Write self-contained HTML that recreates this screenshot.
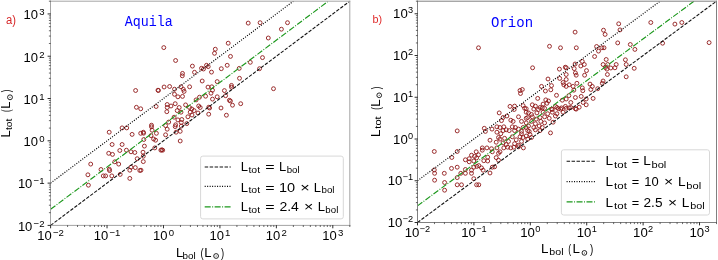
<!DOCTYPE html>
<html><head><meta charset="utf-8"><style>
html,body{margin:0;padding:0;background:#fff;width:718px;height:260px;overflow:hidden}
svg{display:block;filter:blur(0.35px)}
</style></head><body>
<svg width="718" height="260" viewBox="0 0 718 260" font-family='"Liberation Sans", sans-serif' fill="#000"><clipPath id="cAquila"><rect x="50.5" y="1.2" width="299.3" height="224.20000000000002"/></clipPath>
<g clip-path="url(#cAquila)">
<circle fill="none" stroke="#901818" stroke-width="0.9" cx="248.2" cy="23.1" r="1.95"/>
<circle fill="none" stroke="#901818" stroke-width="0.9" cx="260.1" cy="22.7" r="1.95"/>
<circle fill="none" stroke="#901818" stroke-width="0.9" cx="287.5" cy="22.7" r="1.95"/>
<circle fill="none" stroke="#901818" stroke-width="0.9" cx="281.4" cy="29.2" r="1.95"/>
<circle fill="none" stroke="#901818" stroke-width="0.9" cx="268.3" cy="38.0" r="1.95"/>
<circle fill="none" stroke="#901818" stroke-width="0.9" cx="228.2" cy="43.2" r="1.95"/>
<circle fill="none" stroke="#901818" stroke-width="0.9" cx="215.3" cy="49.2" r="1.95"/>
<circle fill="none" stroke="#901818" stroke-width="0.9" cx="214.5" cy="53.3" r="1.95"/>
<circle fill="none" stroke="#901818" stroke-width="0.9" cx="163.8" cy="47.6" r="1.95"/>
<circle fill="none" stroke="#901818" stroke-width="0.9" cx="230.5" cy="56.4" r="1.95"/>
<circle fill="none" stroke="#901818" stroke-width="0.9" cx="175.6" cy="60.5" r="1.95"/>
<circle fill="none" stroke="#901818" stroke-width="0.9" cx="262.5" cy="57.6" r="1.95"/>
<circle fill="none" stroke="#901818" stroke-width="0.9" cx="250.3" cy="62.3" r="1.95"/>
<circle fill="none" stroke="#901818" stroke-width="0.9" cx="192.4" cy="66.1" r="1.95"/>
<circle fill="none" stroke="#901818" stroke-width="0.9" cx="206.5" cy="65.3" r="1.95"/>
<circle fill="none" stroke="#901818" stroke-width="0.9" cx="208.2" cy="66.6" r="1.95"/>
<circle fill="none" stroke="#901818" stroke-width="0.9" cx="201.5" cy="68.3" r="1.95"/>
<circle fill="none" stroke="#901818" stroke-width="0.9" cx="203.5" cy="69.0" r="1.95"/>
<circle fill="none" stroke="#901818" stroke-width="0.9" cx="227.2" cy="65.3" r="1.95"/>
<circle fill="none" stroke="#901818" stroke-width="0.9" cx="221.3" cy="68.7" r="1.95"/>
<circle fill="none" stroke="#901818" stroke-width="0.9" cx="239.2" cy="68.4" r="1.95"/>
<circle fill="none" stroke="#901818" stroke-width="0.9" cx="259.5" cy="68.7" r="1.95"/>
<circle fill="none" stroke="#901818" stroke-width="0.9" cx="194.5" cy="72.3" r="1.95"/>
<circle fill="none" stroke="#901818" stroke-width="0.9" cx="211.5" cy="72.1" r="1.95"/>
<circle fill="none" stroke="#901818" stroke-width="0.9" cx="182.5" cy="73.4" r="1.95"/>
<circle fill="none" stroke="#901818" stroke-width="0.9" cx="182.3" cy="75.8" r="1.95"/>
<circle fill="none" stroke="#901818" stroke-width="0.9" cx="239.5" cy="78.3" r="1.95"/>
<circle fill="none" stroke="#901818" stroke-width="0.9" cx="202.2" cy="81.0" r="1.95"/>
<circle fill="none" stroke="#901818" stroke-width="0.9" cx="217.2" cy="81.6" r="1.95"/>
<circle fill="none" stroke="#901818" stroke-width="0.9" cx="164.1" cy="87.0" r="1.95"/>
<circle fill="none" stroke="#901818" stroke-width="0.9" cx="169.6" cy="86.5" r="1.95"/>
<circle fill="none" stroke="#901818" stroke-width="0.9" cx="181.0" cy="86.8" r="1.95"/>
<circle fill="none" stroke="#901818" stroke-width="0.9" cx="189.6" cy="86.8" r="1.95"/>
<circle fill="none" stroke="#901818" stroke-width="0.9" cx="174.5" cy="89.2" r="1.95"/>
<circle fill="none" stroke="#901818" stroke-width="0.9" cx="183.3" cy="89.3" r="1.95"/>
<circle fill="none" stroke="#901818" stroke-width="0.9" cx="184.1" cy="91.4" r="1.95"/>
<circle fill="none" stroke="#901818" stroke-width="0.9" cx="208.0" cy="87.1" r="1.95"/>
<circle fill="none" stroke="#901818" stroke-width="0.9" cx="211.8" cy="86.8" r="1.95"/>
<circle fill="none" stroke="#901818" stroke-width="0.9" cx="231.5" cy="85.4" r="1.95"/>
<circle fill="none" stroke="#901818" stroke-width="0.9" cx="231.5" cy="87.2" r="1.95"/>
<circle fill="none" stroke="#901818" stroke-width="0.9" cx="212.5" cy="90.2" r="1.95"/>
<circle fill="none" stroke="#901818" stroke-width="0.9" cx="224.4" cy="90.6" r="1.95"/>
<circle fill="none" stroke="#901818" stroke-width="0.9" cx="211.0" cy="93.2" r="1.95"/>
<circle fill="none" stroke="#901818" stroke-width="0.9" cx="174.5" cy="94.3" r="1.95"/>
<circle fill="none" stroke="#901818" stroke-width="0.9" cx="177.9" cy="96.8" r="1.95"/>
<circle fill="none" stroke="#901818" stroke-width="0.9" cx="182.5" cy="96.4" r="1.95"/>
<circle fill="none" stroke="#901818" stroke-width="0.9" cx="225.6" cy="95.7" r="1.95"/>
<circle fill="none" stroke="#901818" stroke-width="0.9" cx="205.6" cy="96.2" r="1.95"/>
<circle fill="none" stroke="#901818" stroke-width="0.9" cx="199.5" cy="97.2" r="1.95"/>
<circle fill="none" stroke="#901818" stroke-width="0.9" cx="196.1" cy="99.9" r="1.95"/>
<circle fill="none" stroke="#901818" stroke-width="0.9" cx="212.5" cy="99.1" r="1.95"/>
<circle fill="none" stroke="#901818" stroke-width="0.9" cx="217.2" cy="96.8" r="1.95"/>
<circle fill="none" stroke="#901818" stroke-width="0.9" cx="229.4" cy="100.3" r="1.95"/>
<circle fill="none" stroke="#901818" stroke-width="0.9" cx="230.4" cy="101.0" r="1.95"/>
<circle fill="none" stroke="#901818" stroke-width="0.9" cx="232.5" cy="105.2" r="1.95"/>
<circle fill="none" stroke="#901818" stroke-width="0.9" cx="240.7" cy="103.7" r="1.95"/>
<circle fill="none" stroke="#901818" stroke-width="0.9" cx="167.2" cy="104.5" r="1.95"/>
<circle fill="none" stroke="#901818" stroke-width="0.9" cx="175.2" cy="103.7" r="1.95"/>
<circle fill="none" stroke="#901818" stroke-width="0.9" cx="171.0" cy="106.0" r="1.95"/>
<circle fill="none" stroke="#901818" stroke-width="0.9" cx="167.2" cy="107.5" r="1.95"/>
<circle fill="none" stroke="#901818" stroke-width="0.9" cx="179.2" cy="107.5" r="1.95"/>
<circle fill="none" stroke="#901818" stroke-width="0.9" cx="185.6" cy="104.9" r="1.95"/>
<circle fill="none" stroke="#901818" stroke-width="0.9" cx="189.5" cy="107.5" r="1.95"/>
<circle fill="none" stroke="#901818" stroke-width="0.9" cx="191.8" cy="109.0" r="1.95"/>
<circle fill="none" stroke="#901818" stroke-width="0.9" cx="198.7" cy="106.0" r="1.95"/>
<circle fill="none" stroke="#901818" stroke-width="0.9" cx="200.2" cy="107.5" r="1.95"/>
<circle fill="none" stroke="#901818" stroke-width="0.9" cx="208.8" cy="107.2" r="1.95"/>
<circle fill="none" stroke="#901818" stroke-width="0.9" cx="209.6" cy="108.0" r="1.95"/>
<circle fill="none" stroke="#901818" stroke-width="0.9" cx="221.0" cy="108.0" r="1.95"/>
<circle fill="none" stroke="#901818" stroke-width="0.9" cx="166.8" cy="111.7" r="1.95"/>
<circle fill="none" stroke="#901818" stroke-width="0.9" cx="177.2" cy="110.6" r="1.95"/>
<circle fill="none" stroke="#901818" stroke-width="0.9" cx="181.0" cy="112.2" r="1.95"/>
<circle fill="none" stroke="#901818" stroke-width="0.9" cx="190.2" cy="112.2" r="1.95"/>
<circle fill="none" stroke="#901818" stroke-width="0.9" cx="194.1" cy="110.6" r="1.95"/>
<circle fill="none" stroke="#901818" stroke-width="0.9" cx="198.0" cy="113.0" r="1.95"/>
<circle fill="none" stroke="#901818" stroke-width="0.9" cx="208.7" cy="114.2" r="1.95"/>
<circle fill="none" stroke="#901818" stroke-width="0.9" cx="226.4" cy="115.2" r="1.95"/>
<circle fill="none" stroke="#901818" stroke-width="0.9" cx="135.6" cy="90.5" r="1.95"/>
<circle fill="none" stroke="#901818" stroke-width="0.9" cx="158.0" cy="90.2" r="1.95"/>
<circle fill="none" stroke="#901818" stroke-width="0.9" cx="158.4" cy="90.5" r="1.95"/>
<circle fill="none" stroke="#901818" stroke-width="0.9" cx="136.4" cy="107.3" r="1.95"/>
<circle fill="none" stroke="#901818" stroke-width="0.9" cx="140.7" cy="108.8" r="1.95"/>
<circle fill="none" stroke="#901818" stroke-width="0.9" cx="156.1" cy="106.5" r="1.95"/>
<circle fill="none" stroke="#901818" stroke-width="0.9" cx="273.5" cy="88.7" r="1.95"/>
<circle fill="none" stroke="#901818" stroke-width="0.9" cx="187.9" cy="116.8" r="1.95"/>
<circle fill="none" stroke="#901818" stroke-width="0.9" cx="192.0" cy="115.0" r="1.95"/>
<circle fill="none" stroke="#901818" stroke-width="0.9" cx="174.1" cy="117.2" r="1.95"/>
<circle fill="none" stroke="#901818" stroke-width="0.9" cx="177.9" cy="119.9" r="1.95"/>
<circle fill="none" stroke="#901818" stroke-width="0.9" cx="181.8" cy="119.5" r="1.95"/>
<circle fill="none" stroke="#901818" stroke-width="0.9" cx="181.3" cy="122.5" r="1.95"/>
<circle fill="none" stroke="#901818" stroke-width="0.9" cx="168.7" cy="122.1" r="1.95"/>
<circle fill="none" stroke="#901818" stroke-width="0.9" cx="186.8" cy="123.6" r="1.95"/>
<circle fill="none" stroke="#901818" stroke-width="0.9" cx="175.6" cy="124.8" r="1.95"/>
<circle fill="none" stroke="#901818" stroke-width="0.9" cx="175.2" cy="126.6" r="1.95"/>
<circle fill="none" stroke="#901818" stroke-width="0.9" cx="165.6" cy="125.6" r="1.95"/>
<circle fill="none" stroke="#901818" stroke-width="0.9" cx="167.2" cy="129.2" r="1.95"/>
<circle fill="none" stroke="#901818" stroke-width="0.9" cx="181.3" cy="126.1" r="1.95"/>
<circle fill="none" stroke="#901818" stroke-width="0.9" cx="151.5" cy="125.2" r="1.95"/>
<circle fill="none" stroke="#901818" stroke-width="0.9" cx="151.5" cy="126.8" r="1.95"/>
<circle fill="none" stroke="#901818" stroke-width="0.9" cx="152.1" cy="130.2" r="1.95"/>
<circle fill="none" stroke="#901818" stroke-width="0.9" cx="143.3" cy="132.2" r="1.95"/>
<circle fill="none" stroke="#901818" stroke-width="0.9" cx="143.6" cy="133.2" r="1.95"/>
<circle fill="none" stroke="#901818" stroke-width="0.9" cx="156.4" cy="133.3" r="1.95"/>
<circle fill="none" stroke="#901818" stroke-width="0.9" cx="165.6" cy="134.8" r="1.95"/>
<circle fill="none" stroke="#901818" stroke-width="0.9" cx="176.1" cy="132.2" r="1.95"/>
<circle fill="none" stroke="#901818" stroke-width="0.9" cx="180.2" cy="131.3" r="1.95"/>
<circle fill="none" stroke="#901818" stroke-width="0.9" cx="151.0" cy="135.6" r="1.95"/>
<circle fill="none" stroke="#901818" stroke-width="0.9" cx="153.6" cy="139.0" r="1.95"/>
<circle fill="none" stroke="#901818" stroke-width="0.9" cx="155.6" cy="140.2" r="1.95"/>
<circle fill="none" stroke="#901818" stroke-width="0.9" cx="143.8" cy="139.5" r="1.95"/>
<circle fill="none" stroke="#901818" stroke-width="0.9" cx="180.2" cy="141.0" r="1.95"/>
<circle fill="none" stroke="#901818" stroke-width="0.9" cx="144.4" cy="146.1" r="1.95"/>
<circle fill="none" stroke="#901818" stroke-width="0.9" cx="154.8" cy="147.9" r="1.95"/>
<circle fill="none" stroke="#901818" stroke-width="0.9" cx="161.8" cy="149.8" r="1.95"/>
<circle fill="none" stroke="#901818" stroke-width="0.9" cx="109.2" cy="132.2" r="1.95"/>
<circle fill="none" stroke="#901818" stroke-width="0.9" cx="122.1" cy="127.9" r="1.95"/>
<circle fill="none" stroke="#901818" stroke-width="0.9" cx="126.7" cy="127.9" r="1.95"/>
<circle fill="none" stroke="#901818" stroke-width="0.9" cx="132.1" cy="134.4" r="1.95"/>
<circle fill="none" stroke="#901818" stroke-width="0.9" cx="140.7" cy="133.3" r="1.95"/>
<circle fill="none" stroke="#901818" stroke-width="0.9" cx="112.1" cy="144.5" r="1.95"/>
<circle fill="none" stroke="#901818" stroke-width="0.9" cx="122.1" cy="144.5" r="1.95"/>
<circle fill="none" stroke="#901818" stroke-width="0.9" cx="119.8" cy="150.5" r="1.95"/>
<circle fill="none" stroke="#901818" stroke-width="0.9" cx="126.4" cy="150.2" r="1.95"/>
<circle fill="none" stroke="#901818" stroke-width="0.9" cx="108.7" cy="153.3" r="1.95"/>
<circle fill="none" stroke="#901818" stroke-width="0.9" cx="112.5" cy="154.4" r="1.95"/>
<circle fill="none" stroke="#901818" stroke-width="0.9" cx="131.0" cy="151.8" r="1.95"/>
<circle fill="none" stroke="#901818" stroke-width="0.9" cx="134.8" cy="152.5" r="1.95"/>
<circle fill="none" stroke="#901818" stroke-width="0.9" cx="143.0" cy="152.2" r="1.95"/>
<circle fill="none" stroke="#901818" stroke-width="0.9" cx="137.2" cy="158.7" r="1.95"/>
<circle fill="none" stroke="#901818" stroke-width="0.9" cx="143.3" cy="156.2" r="1.95"/>
<circle fill="none" stroke="#901818" stroke-width="0.9" cx="143.3" cy="161.6" r="1.95"/>
<circle fill="none" stroke="#901818" stroke-width="0.9" cx="90.7" cy="164.1" r="1.95"/>
<circle fill="none" stroke="#901818" stroke-width="0.9" cx="114.8" cy="161.8" r="1.95"/>
<circle fill="none" stroke="#901818" stroke-width="0.9" cx="118.7" cy="164.1" r="1.95"/>
<circle fill="none" stroke="#901818" stroke-width="0.9" cx="101.0" cy="169.5" r="1.95"/>
<circle fill="none" stroke="#901818" stroke-width="0.9" cx="109.3" cy="169.2" r="1.95"/>
<circle fill="none" stroke="#901818" stroke-width="0.9" cx="109.6" cy="170.6" r="1.95"/>
<circle fill="none" stroke="#901818" stroke-width="0.9" cx="87.9" cy="174.8" r="1.95"/>
<circle fill="none" stroke="#901818" stroke-width="0.9" cx="103.3" cy="175.9" r="1.95"/>
<circle fill="none" stroke="#901818" stroke-width="0.9" cx="105.6" cy="175.9" r="1.95"/>
<circle fill="none" stroke="#901818" stroke-width="0.9" cx="111.8" cy="175.9" r="1.95"/>
<circle fill="none" stroke="#901818" stroke-width="0.9" cx="120.2" cy="174.4" r="1.95"/>
<circle fill="none" stroke="#901818" stroke-width="0.9" cx="131.0" cy="167.2" r="1.95"/>
<circle fill="none" stroke="#901818" stroke-width="0.9" cx="129.8" cy="170.2" r="1.95"/>
<circle fill="none" stroke="#901818" stroke-width="0.9" cx="135.3" cy="167.6" r="1.95"/>
<circle fill="none" stroke="#901818" stroke-width="0.9" cx="139.8" cy="170.5" r="1.95"/>
<circle fill="none" stroke="#901818" stroke-width="0.9" cx="129.8" cy="178.4" r="1.95"/>
<circle fill="none" stroke="#901818" stroke-width="0.9" cx="88.4" cy="185.2" r="1.95"/>
<circle fill="none" stroke="#901818" stroke-width="0.9" cx="160.9" cy="150.2" r="1.95"/>
<circle fill="none" stroke="#901818" stroke-width="0.9" cx="162.7" cy="150.2" r="1.95"/>
<circle fill="none" stroke="#901818" stroke-width="0.9" cx="141.0" cy="170.2" r="1.95"/>
<line x1="50.60" y1="183.11" x2="361.09" y2="-49.55" stroke="#000" stroke-width="1.2" stroke-dasharray="1.0,1.48"/>
<line x1="50.60" y1="209.32" x2="361.09" y2="-23.34" stroke="#1c981c" stroke-width="1.15" stroke-dasharray="6,1.5,0.94,1.5"/>
<line x1="50.60" y1="225.40" x2="361.09" y2="-7.26" stroke="#111" stroke-width="1.08" stroke-dasharray="3.46,1.5"/>
</g>
<g stroke="#a4a4a4" stroke-width="1"><line x1="50.5" y1="0.7" x2="50.5" y2="225.9"/><line x1="349.8" y1="0.7" x2="349.8" y2="225.9"/><line x1="50.0" y1="1.2" x2="350.3" y2="1.2"/><line x1="50.0" y1="225.4" x2="350.3" y2="225.4"/></g>
<g stroke="#222" stroke-width="0.95"><line x1="50.60" y1="225.1" x2="50.60" y2="228.3"/><line x1="50.8" y1="225.40" x2="47.6" y2="225.40"/><line x1="107.04" y1="225.1" x2="107.04" y2="228.3"/><line x1="50.8" y1="183.11" x2="47.6" y2="183.11"/><line x1="163.48" y1="225.1" x2="163.48" y2="228.3"/><line x1="50.8" y1="140.81" x2="47.6" y2="140.81"/><line x1="219.93" y1="225.1" x2="219.93" y2="228.3"/><line x1="50.8" y1="98.52" x2="47.6" y2="98.52"/><line x1="276.37" y1="225.1" x2="276.37" y2="228.3"/><line x1="50.8" y1="56.22" x2="47.6" y2="56.22"/><line x1="332.81" y1="225.1" x2="332.81" y2="228.3"/><line x1="50.8" y1="13.93" x2="47.6" y2="13.93"/></g>
<g stroke="#444" stroke-width="0.8"><line x1="67.59" y1="225.1" x2="67.59" y2="227.0"/><line x1="50.8" y1="212.67" x2="48.9" y2="212.67"/><line x1="77.53" y1="225.1" x2="77.53" y2="227.0"/><line x1="50.8" y1="205.22" x2="48.9" y2="205.22"/><line x1="84.58" y1="225.1" x2="84.58" y2="227.0"/><line x1="50.8" y1="199.94" x2="48.9" y2="199.94"/><line x1="90.05" y1="225.1" x2="90.05" y2="227.0"/><line x1="50.8" y1="195.84" x2="48.9" y2="195.84"/><line x1="94.52" y1="225.1" x2="94.52" y2="227.0"/><line x1="50.8" y1="192.49" x2="48.9" y2="192.49"/><line x1="98.30" y1="225.1" x2="98.30" y2="227.0"/><line x1="50.8" y1="189.66" x2="48.9" y2="189.66"/><line x1="101.57" y1="225.1" x2="101.57" y2="227.0"/><line x1="50.8" y1="187.20" x2="48.9" y2="187.20"/><line x1="104.46" y1="225.1" x2="104.46" y2="227.0"/><line x1="50.8" y1="185.04" x2="48.9" y2="185.04"/><line x1="124.03" y1="225.1" x2="124.03" y2="227.0"/><line x1="50.8" y1="170.37" x2="48.9" y2="170.37"/><line x1="133.97" y1="225.1" x2="133.97" y2="227.0"/><line x1="50.8" y1="162.93" x2="48.9" y2="162.93"/><line x1="141.02" y1="225.1" x2="141.02" y2="227.0"/><line x1="50.8" y1="157.64" x2="48.9" y2="157.64"/><line x1="146.49" y1="225.1" x2="146.49" y2="227.0"/><line x1="50.8" y1="153.54" x2="48.9" y2="153.54"/><line x1="150.96" y1="225.1" x2="150.96" y2="227.0"/><line x1="50.8" y1="150.20" x2="48.9" y2="150.20"/><line x1="154.74" y1="225.1" x2="154.74" y2="227.0"/><line x1="50.8" y1="147.36" x2="48.9" y2="147.36"/><line x1="158.01" y1="225.1" x2="158.01" y2="227.0"/><line x1="50.8" y1="144.91" x2="48.9" y2="144.91"/><line x1="160.90" y1="225.1" x2="160.90" y2="227.0"/><line x1="50.8" y1="142.75" x2="48.9" y2="142.75"/><line x1="180.48" y1="225.1" x2="180.48" y2="227.0"/><line x1="50.8" y1="128.08" x2="48.9" y2="128.08"/><line x1="190.41" y1="225.1" x2="190.41" y2="227.0"/><line x1="50.8" y1="120.63" x2="48.9" y2="120.63"/><line x1="197.47" y1="225.1" x2="197.47" y2="227.0"/><line x1="50.8" y1="115.35" x2="48.9" y2="115.35"/><line x1="202.94" y1="225.1" x2="202.94" y2="227.0"/><line x1="50.8" y1="111.25" x2="48.9" y2="111.25"/><line x1="207.40" y1="225.1" x2="207.40" y2="227.0"/><line x1="50.8" y1="107.90" x2="48.9" y2="107.90"/><line x1="211.18" y1="225.1" x2="211.18" y2="227.0"/><line x1="50.8" y1="105.07" x2="48.9" y2="105.07"/><line x1="214.46" y1="225.1" x2="214.46" y2="227.0"/><line x1="50.8" y1="102.62" x2="48.9" y2="102.62"/><line x1="217.34" y1="225.1" x2="217.34" y2="227.0"/><line x1="50.8" y1="100.45" x2="48.9" y2="100.45"/><line x1="236.92" y1="225.1" x2="236.92" y2="227.0"/><line x1="50.8" y1="85.79" x2="48.9" y2="85.79"/><line x1="246.86" y1="225.1" x2="246.86" y2="227.0"/><line x1="50.8" y1="78.34" x2="48.9" y2="78.34"/><line x1="253.91" y1="225.1" x2="253.91" y2="227.0"/><line x1="50.8" y1="73.05" x2="48.9" y2="73.05"/><line x1="259.38" y1="225.1" x2="259.38" y2="227.0"/><line x1="50.8" y1="68.96" x2="48.9" y2="68.96"/><line x1="263.85" y1="225.1" x2="263.85" y2="227.0"/><line x1="50.8" y1="65.61" x2="48.9" y2="65.61"/><line x1="267.63" y1="225.1" x2="267.63" y2="227.0"/><line x1="50.8" y1="62.78" x2="48.9" y2="62.78"/><line x1="270.90" y1="225.1" x2="270.90" y2="227.0"/><line x1="50.8" y1="60.32" x2="48.9" y2="60.32"/><line x1="273.79" y1="225.1" x2="273.79" y2="227.0"/><line x1="50.8" y1="58.16" x2="48.9" y2="58.16"/><line x1="293.36" y1="225.1" x2="293.36" y2="227.0"/><line x1="50.8" y1="43.49" x2="48.9" y2="43.49"/><line x1="303.30" y1="225.1" x2="303.30" y2="227.0"/><line x1="50.8" y1="36.05" x2="48.9" y2="36.05"/><line x1="310.35" y1="225.1" x2="310.35" y2="227.0"/><line x1="50.8" y1="30.76" x2="48.9" y2="30.76"/><line x1="315.82" y1="225.1" x2="315.82" y2="227.0"/><line x1="50.8" y1="26.66" x2="48.9" y2="26.66"/><line x1="320.29" y1="225.1" x2="320.29" y2="227.0"/><line x1="50.8" y1="23.31" x2="48.9" y2="23.31"/><line x1="324.07" y1="225.1" x2="324.07" y2="227.0"/><line x1="50.8" y1="20.48" x2="48.9" y2="20.48"/><line x1="327.34" y1="225.1" x2="327.34" y2="227.0"/><line x1="50.8" y1="18.03" x2="48.9" y2="18.03"/><line x1="330.23" y1="225.1" x2="330.23" y2="227.0"/><line x1="50.8" y1="15.87" x2="48.9" y2="15.87"/><line x1="349.80" y1="225.1" x2="349.80" y2="227.0"/><line x1="50.8" y1="1.20" x2="48.9" y2="1.20"/></g>
<text x="50.60" y="239.50" text-anchor="middle" font-size="13">10<tspan font-size="9.6" dx="1.2" dy="-4.0">−2</tspan></text>
<text x="44.50" y="230.70" text-anchor="end" font-size="13">10<tspan font-size="9.6" dx="1.2" dy="-4.0">−2</tspan></text>
<text x="107.04" y="239.50" text-anchor="middle" font-size="13">10<tspan font-size="9.6" dx="1.2" dy="-4.0">−1</tspan></text>
<text x="44.50" y="188.41" text-anchor="end" font-size="13">10<tspan font-size="9.6" dx="1.2" dy="-4.0">−1</tspan></text>
<text x="163.48" y="239.50" text-anchor="middle" font-size="13">10<tspan font-size="9.6" dx="1.2" dy="-4.0">0</tspan></text>
<text x="44.50" y="146.11" text-anchor="end" font-size="13">10<tspan font-size="9.6" dx="1.2" dy="-4.0">0</tspan></text>
<text x="219.93" y="239.50" text-anchor="middle" font-size="13">10<tspan font-size="9.6" dx="1.2" dy="-4.0">1</tspan></text>
<text x="44.50" y="103.82" text-anchor="end" font-size="13">10<tspan font-size="9.6" dx="1.2" dy="-4.0">1</tspan></text>
<text x="276.37" y="239.50" text-anchor="middle" font-size="13">10<tspan font-size="9.6" dx="1.2" dy="-4.0">2</tspan></text>
<text x="44.50" y="61.52" text-anchor="end" font-size="13">10<tspan font-size="9.6" dx="1.2" dy="-4.0">2</tspan></text>
<text x="332.81" y="239.50" text-anchor="middle" font-size="13">10<tspan font-size="9.6" dx="1.2" dy="-4.0">3</tspan></text>
<text x="44.50" y="19.23" text-anchor="end" font-size="13">10<tspan font-size="9.6" dx="1.2" dy="-4.0">3</tspan></text>
<clipPath id="cOrion"><rect x="417.5" y="1.2" width="299.0" height="221.3"/></clipPath>
<g clip-path="url(#cOrion)">
<circle fill="none" stroke="#901818" stroke-width="0.9" cx="575.1" cy="32.1" r="1.95"/>
<circle fill="none" stroke="#901818" stroke-width="0.9" cx="603.5" cy="30.2" r="1.95"/>
<circle fill="none" stroke="#901818" stroke-width="0.9" cx="605.1" cy="34.4" r="1.95"/>
<circle fill="none" stroke="#901818" stroke-width="0.9" cx="618.7" cy="23.8" r="1.95"/>
<circle fill="none" stroke="#901818" stroke-width="0.9" cx="620.0" cy="29.9" r="1.95"/>
<circle fill="none" stroke="#901818" stroke-width="0.9" cx="650.8" cy="22.5" r="1.95"/>
<circle fill="none" stroke="#901818" stroke-width="0.9" cx="674.9" cy="24.1" r="1.95"/>
<circle fill="none" stroke="#901818" stroke-width="0.9" cx="681.8" cy="22.5" r="1.95"/>
<circle fill="none" stroke="#901818" stroke-width="0.9" cx="549.5" cy="46.3" r="1.95"/>
<circle fill="none" stroke="#901818" stroke-width="0.9" cx="560.5" cy="47.8" r="1.95"/>
<circle fill="none" stroke="#901818" stroke-width="0.9" cx="576.3" cy="47.8" r="1.95"/>
<circle fill="none" stroke="#901818" stroke-width="0.9" cx="596.6" cy="46.5" r="1.95"/>
<circle fill="none" stroke="#901818" stroke-width="0.9" cx="601.9" cy="47.8" r="1.95"/>
<circle fill="none" stroke="#901818" stroke-width="0.9" cx="604.0" cy="47.8" r="1.95"/>
<circle fill="none" stroke="#901818" stroke-width="0.9" cx="598.5" cy="51.1" r="1.95"/>
<circle fill="none" stroke="#901818" stroke-width="0.9" cx="617.7" cy="42.9" r="1.95"/>
<circle fill="none" stroke="#901818" stroke-width="0.9" cx="630.3" cy="44.5" r="1.95"/>
<circle fill="none" stroke="#901818" stroke-width="0.9" cx="594.6" cy="56.5" r="1.95"/>
<circle fill="none" stroke="#901818" stroke-width="0.9" cx="606.2" cy="59.5" r="1.95"/>
<circle fill="none" stroke="#901818" stroke-width="0.9" cx="625.4" cy="59.8" r="1.95"/>
<circle fill="none" stroke="#901818" stroke-width="0.9" cx="626.2" cy="64.5" r="1.95"/>
<circle fill="none" stroke="#901818" stroke-width="0.9" cx="582.3" cy="61.4" r="1.95"/>
<circle fill="none" stroke="#901818" stroke-width="0.9" cx="584.3" cy="64.5" r="1.95"/>
<circle fill="none" stroke="#901818" stroke-width="0.9" cx="580.8" cy="66.0" r="1.95"/>
<circle fill="none" stroke="#901818" stroke-width="0.9" cx="575.1" cy="64.0" r="1.95"/>
<circle fill="none" stroke="#901818" stroke-width="0.9" cx="574.2" cy="68.6" r="1.95"/>
<circle fill="none" stroke="#901818" stroke-width="0.9" cx="565.3" cy="67.2" r="1.95"/>
<circle fill="none" stroke="#901818" stroke-width="0.9" cx="566.3" cy="67.8" r="1.95"/>
<circle fill="none" stroke="#901818" stroke-width="0.9" cx="559.4" cy="69.1" r="1.95"/>
<circle fill="none" stroke="#901818" stroke-width="0.9" cx="532.6" cy="67.8" r="1.95"/>
<circle fill="none" stroke="#901818" stroke-width="0.9" cx="603.1" cy="64.5" r="1.95"/>
<circle fill="none" stroke="#901818" stroke-width="0.9" cx="607.7" cy="64.5" r="1.95"/>
<circle fill="none" stroke="#901818" stroke-width="0.9" cx="605.4" cy="67.5" r="1.95"/>
<circle fill="none" stroke="#901818" stroke-width="0.9" cx="610.8" cy="68.0" r="1.95"/>
<circle fill="none" stroke="#901818" stroke-width="0.9" cx="614.9" cy="67.8" r="1.95"/>
<circle fill="none" stroke="#901818" stroke-width="0.9" cx="616.2" cy="64.5" r="1.95"/>
<circle fill="none" stroke="#901818" stroke-width="0.9" cx="606.9" cy="69.1" r="1.95"/>
<circle fill="none" stroke="#901818" stroke-width="0.9" cx="586.5" cy="70.6" r="1.95"/>
<circle fill="none" stroke="#901818" stroke-width="0.9" cx="575.4" cy="72.9" r="1.95"/>
<circle fill="none" stroke="#901818" stroke-width="0.9" cx="576.2" cy="75.2" r="1.95"/>
<circle fill="none" stroke="#901818" stroke-width="0.9" cx="566.2" cy="74.5" r="1.95"/>
<circle fill="none" stroke="#901818" stroke-width="0.9" cx="584.6" cy="75.2" r="1.95"/>
<circle fill="none" stroke="#901818" stroke-width="0.9" cx="607.4" cy="74.5" r="1.95"/>
<circle fill="none" stroke="#901818" stroke-width="0.9" cx="626.2" cy="76.8" r="1.95"/>
<circle fill="none" stroke="#901818" stroke-width="0.9" cx="634.9" cy="49.4" r="1.95"/>
<circle fill="none" stroke="#901818" stroke-width="0.9" cx="662.6" cy="43.2" r="1.95"/>
<circle fill="none" stroke="#901818" stroke-width="0.9" cx="709.1" cy="42.6" r="1.95"/>
<circle fill="none" stroke="#901818" stroke-width="0.9" cx="634.2" cy="68.3" r="1.95"/>
<circle fill="none" stroke="#901818" stroke-width="0.9" cx="478.5" cy="47.8" r="1.95"/>
<circle fill="none" stroke="#901818" stroke-width="0.9" cx="548.0" cy="79.0" r="1.95"/>
<circle fill="none" stroke="#901818" stroke-width="0.9" cx="559.7" cy="78.4" r="1.95"/>
<circle fill="none" stroke="#901818" stroke-width="0.9" cx="566.2" cy="79.5" r="1.95"/>
<circle fill="none" stroke="#901818" stroke-width="0.9" cx="563.1" cy="82.5" r="1.95"/>
<circle fill="none" stroke="#901818" stroke-width="0.9" cx="563.8" cy="84.8" r="1.95"/>
<circle fill="none" stroke="#901818" stroke-width="0.9" cx="566.2" cy="86.4" r="1.95"/>
<circle fill="none" stroke="#901818" stroke-width="0.9" cx="569.2" cy="84.8" r="1.95"/>
<circle fill="none" stroke="#901818" stroke-width="0.9" cx="573.1" cy="86.4" r="1.95"/>
<circle fill="none" stroke="#901818" stroke-width="0.9" cx="576.9" cy="83.3" r="1.95"/>
<circle fill="none" stroke="#901818" stroke-width="0.9" cx="590.0" cy="84.1" r="1.95"/>
<circle fill="none" stroke="#901818" stroke-width="0.9" cx="592.3" cy="86.4" r="1.95"/>
<circle fill="none" stroke="#901818" stroke-width="0.9" cx="603.1" cy="81.0" r="1.95"/>
<circle fill="none" stroke="#901818" stroke-width="0.9" cx="602.3" cy="83.3" r="1.95"/>
<circle fill="none" stroke="#901818" stroke-width="0.9" cx="597.7" cy="88.7" r="1.95"/>
<circle fill="none" stroke="#901818" stroke-width="0.9" cx="590.8" cy="89.5" r="1.95"/>
<circle fill="none" stroke="#901818" stroke-width="0.9" cx="582.3" cy="87.9" r="1.95"/>
<circle fill="none" stroke="#901818" stroke-width="0.9" cx="582.8" cy="90.7" r="1.95"/>
<circle fill="none" stroke="#901818" stroke-width="0.9" cx="573.8" cy="90.2" r="1.95"/>
<circle fill="none" stroke="#901818" stroke-width="0.9" cx="541.5" cy="86.4" r="1.95"/>
<circle fill="none" stroke="#901818" stroke-width="0.9" cx="551.5" cy="85.6" r="1.95"/>
<circle fill="none" stroke="#901818" stroke-width="0.9" cx="550.8" cy="89.8" r="1.95"/>
<circle fill="none" stroke="#901818" stroke-width="0.9" cx="545.4" cy="91.0" r="1.95"/>
<circle fill="none" stroke="#901818" stroke-width="0.9" cx="522.3" cy="89.5" r="1.95"/>
<circle fill="none" stroke="#901818" stroke-width="0.9" cx="520.5" cy="93.5" r="1.95"/>
<circle fill="none" stroke="#901818" stroke-width="0.9" cx="556.5" cy="95.3" r="1.95"/>
<circle fill="none" stroke="#901818" stroke-width="0.9" cx="568.9" cy="95.6" r="1.95"/>
<circle fill="none" stroke="#901818" stroke-width="0.9" cx="575.4" cy="97.5" r="1.95"/>
<circle fill="none" stroke="#901818" stroke-width="0.9" cx="581.2" cy="96.4" r="1.95"/>
<circle fill="none" stroke="#901818" stroke-width="0.9" cx="586.2" cy="99.0" r="1.95"/>
<circle fill="none" stroke="#901818" stroke-width="0.9" cx="593.1" cy="98.4" r="1.95"/>
<circle fill="none" stroke="#901818" stroke-width="0.9" cx="537.7" cy="98.4" r="1.95"/>
<circle fill="none" stroke="#901818" stroke-width="0.9" cx="545.8" cy="99.9" r="1.95"/>
<circle fill="none" stroke="#901818" stroke-width="0.9" cx="548.5" cy="101.0" r="1.95"/>
<circle fill="none" stroke="#901818" stroke-width="0.9" cx="546.9" cy="103.3" r="1.95"/>
<circle fill="none" stroke="#901818" stroke-width="0.9" cx="562.3" cy="100.2" r="1.95"/>
<circle fill="none" stroke="#901818" stroke-width="0.9" cx="566.2" cy="99.0" r="1.95"/>
<circle fill="none" stroke="#901818" stroke-width="0.9" cx="570.8" cy="102.5" r="1.95"/>
<circle fill="none" stroke="#901818" stroke-width="0.9" cx="583.1" cy="102.5" r="1.95"/>
<circle fill="none" stroke="#901818" stroke-width="0.9" cx="586.2" cy="104.8" r="1.95"/>
<circle fill="none" stroke="#901818" stroke-width="0.9" cx="523.1" cy="105.6" r="1.95"/>
<circle fill="none" stroke="#901818" stroke-width="0.9" cx="532.3" cy="104.8" r="1.95"/>
<circle fill="none" stroke="#901818" stroke-width="0.9" cx="535.4" cy="106.1" r="1.95"/>
<circle fill="none" stroke="#901818" stroke-width="0.9" cx="543.1" cy="104.1" r="1.95"/>
<circle fill="none" stroke="#901818" stroke-width="0.9" cx="542.3" cy="107.9" r="1.95"/>
<circle fill="none" stroke="#901818" stroke-width="0.9" cx="555.4" cy="106.4" r="1.95"/>
<circle fill="none" stroke="#901818" stroke-width="0.9" cx="558.5" cy="108.7" r="1.95"/>
<circle fill="none" stroke="#901818" stroke-width="0.9" cx="561.5" cy="107.9" r="1.95"/>
<circle fill="none" stroke="#901818" stroke-width="0.9" cx="565.4" cy="106.4" r="1.95"/>
<circle fill="none" stroke="#901818" stroke-width="0.9" cx="569.2" cy="107.9" r="1.95"/>
<circle fill="none" stroke="#901818" stroke-width="0.9" cx="575.4" cy="108.7" r="1.95"/>
<circle fill="none" stroke="#901818" stroke-width="0.9" cx="579.2" cy="107.2" r="1.95"/>
<circle fill="none" stroke="#901818" stroke-width="0.9" cx="538.5" cy="109.5" r="1.95"/>
<circle fill="none" stroke="#901818" stroke-width="0.9" cx="526.2" cy="108.7" r="1.95"/>
<circle fill="none" stroke="#901818" stroke-width="0.9" cx="552.3" cy="109.5" r="1.95"/>
<circle fill="none" stroke="#901818" stroke-width="0.9" cx="520.0" cy="90.5" r="1.95"/>
<circle fill="none" stroke="#901818" stroke-width="0.9" cx="510.0" cy="106.4" r="1.95"/>
<circle fill="none" stroke="#901818" stroke-width="0.9" cx="514.6" cy="106.1" r="1.95"/>
<circle fill="none" stroke="#901818" stroke-width="0.9" cx="514.2" cy="109.5" r="1.95"/>
<circle fill="none" stroke="#901818" stroke-width="0.9" cx="457.2" cy="130.9" r="1.95"/>
<circle fill="none" stroke="#901818" stroke-width="0.9" cx="484.3" cy="128.3" r="1.95"/>
<circle fill="none" stroke="#901818" stroke-width="0.9" cx="485.4" cy="131.4" r="1.95"/>
<circle fill="none" stroke="#901818" stroke-width="0.9" cx="490.0" cy="140.2" r="1.95"/>
<circle fill="none" stroke="#901818" stroke-width="0.9" cx="492.0" cy="129.1" r="1.95"/>
<circle fill="none" stroke="#901818" stroke-width="0.9" cx="499.2" cy="112.9" r="1.95"/>
<circle fill="none" stroke="#901818" stroke-width="0.9" cx="503.1" cy="117.5" r="1.95"/>
<circle fill="none" stroke="#901818" stroke-width="0.9" cx="506.9" cy="116.0" r="1.95"/>
<circle fill="none" stroke="#901818" stroke-width="0.9" cx="501.5" cy="120.6" r="1.95"/>
<circle fill="none" stroke="#901818" stroke-width="0.9" cx="510.8" cy="120.2" r="1.95"/>
<circle fill="none" stroke="#901818" stroke-width="0.9" cx="513.1" cy="121.4" r="1.95"/>
<circle fill="none" stroke="#901818" stroke-width="0.9" cx="528.5" cy="112.9" r="1.95"/>
<circle fill="none" stroke="#901818" stroke-width="0.9" cx="518.5" cy="116.8" r="1.95"/>
<circle fill="none" stroke="#901818" stroke-width="0.9" cx="521.5" cy="121.4" r="1.95"/>
<circle fill="none" stroke="#901818" stroke-width="0.9" cx="526.2" cy="118.3" r="1.95"/>
<circle fill="none" stroke="#901818" stroke-width="0.9" cx="496.9" cy="126.8" r="1.95"/>
<circle fill="none" stroke="#901818" stroke-width="0.9" cx="500.0" cy="127.5" r="1.95"/>
<circle fill="none" stroke="#901818" stroke-width="0.9" cx="503.8" cy="126.8" r="1.95"/>
<circle fill="none" stroke="#901818" stroke-width="0.9" cx="506.2" cy="129.8" r="1.95"/>
<circle fill="none" stroke="#901818" stroke-width="0.9" cx="496.9" cy="132.2" r="1.95"/>
<circle fill="none" stroke="#901818" stroke-width="0.9" cx="500.8" cy="133.7" r="1.95"/>
<circle fill="none" stroke="#901818" stroke-width="0.9" cx="503.1" cy="130.6" r="1.95"/>
<circle fill="none" stroke="#901818" stroke-width="0.9" cx="509.2" cy="130.6" r="1.95"/>
<circle fill="none" stroke="#901818" stroke-width="0.9" cx="512.3" cy="126.8" r="1.95"/>
<circle fill="none" stroke="#901818" stroke-width="0.9" cx="515.4" cy="127.5" r="1.95"/>
<circle fill="none" stroke="#901818" stroke-width="0.9" cx="514.6" cy="130.6" r="1.95"/>
<circle fill="none" stroke="#901818" stroke-width="0.9" cx="518.5" cy="129.1" r="1.95"/>
<circle fill="none" stroke="#901818" stroke-width="0.9" cx="521.5" cy="131.4" r="1.95"/>
<circle fill="none" stroke="#901818" stroke-width="0.9" cx="526.2" cy="127.5" r="1.95"/>
<circle fill="none" stroke="#901818" stroke-width="0.9" cx="527.7" cy="130.6" r="1.95"/>
<circle fill="none" stroke="#901818" stroke-width="0.9" cx="498.5" cy="137.5" r="1.95"/>
<circle fill="none" stroke="#901818" stroke-width="0.9" cx="500.0" cy="139.1" r="1.95"/>
<circle fill="none" stroke="#901818" stroke-width="0.9" cx="496.2" cy="142.2" r="1.95"/>
<circle fill="none" stroke="#901818" stroke-width="0.9" cx="504.6" cy="138.3" r="1.95"/>
<circle fill="none" stroke="#901818" stroke-width="0.9" cx="508.5" cy="141.4" r="1.95"/>
<circle fill="none" stroke="#901818" stroke-width="0.9" cx="512.3" cy="136.8" r="1.95"/>
<circle fill="none" stroke="#901818" stroke-width="0.9" cx="516.2" cy="139.8" r="1.95"/>
<circle fill="none" stroke="#901818" stroke-width="0.9" cx="520.0" cy="136.8" r="1.95"/>
<circle fill="none" stroke="#901818" stroke-width="0.9" cx="521.5" cy="141.4" r="1.95"/>
<circle fill="none" stroke="#901818" stroke-width="0.9" cx="526.2" cy="136.0" r="1.95"/>
<circle fill="none" stroke="#901818" stroke-width="0.9" cx="527.7" cy="139.1" r="1.95"/>
<circle fill="none" stroke="#901818" stroke-width="0.9" cx="503.1" cy="142.9" r="1.95"/>
<circle fill="none" stroke="#901818" stroke-width="0.9" cx="506.2" cy="144.5" r="1.95"/>
<circle fill="none" stroke="#901818" stroke-width="0.9" cx="514.6" cy="143.7" r="1.95"/>
<circle fill="none" stroke="#901818" stroke-width="0.9" cx="518.5" cy="145.2" r="1.95"/>
<circle fill="none" stroke="#901818" stroke-width="0.9" cx="524.6" cy="108.3" r="1.95"/>
<circle fill="none" stroke="#901818" stroke-width="0.9" cx="533.8" cy="109.1" r="1.95"/>
<circle fill="none" stroke="#901818" stroke-width="0.9" cx="540.0" cy="107.5" r="1.95"/>
<circle fill="none" stroke="#901818" stroke-width="0.9" cx="544.6" cy="108.3" r="1.95"/>
<circle fill="none" stroke="#901818" stroke-width="0.9" cx="551.5" cy="109.1" r="1.95"/>
<circle fill="none" stroke="#901818" stroke-width="0.9" cx="556.9" cy="107.5" r="1.95"/>
<circle fill="none" stroke="#901818" stroke-width="0.9" cx="560.8" cy="109.1" r="1.95"/>
<circle fill="none" stroke="#901818" stroke-width="0.9" cx="566.2" cy="108.3" r="1.95"/>
<circle fill="none" stroke="#901818" stroke-width="0.9" cx="570.8" cy="107.5" r="1.95"/>
<circle fill="none" stroke="#901818" stroke-width="0.9" cx="576.2" cy="109.1" r="1.95"/>
<circle fill="none" stroke="#901818" stroke-width="0.9" cx="526.2" cy="112.2" r="1.95"/>
<circle fill="none" stroke="#901818" stroke-width="0.9" cx="531.5" cy="114.5" r="1.95"/>
<circle fill="none" stroke="#901818" stroke-width="0.9" cx="536.9" cy="112.9" r="1.95"/>
<circle fill="none" stroke="#901818" stroke-width="0.9" cx="543.1" cy="112.2" r="1.95"/>
<circle fill="none" stroke="#901818" stroke-width="0.9" cx="547.7" cy="113.7" r="1.95"/>
<circle fill="none" stroke="#901818" stroke-width="0.9" cx="552.3" cy="112.2" r="1.95"/>
<circle fill="none" stroke="#901818" stroke-width="0.9" cx="556.9" cy="113.7" r="1.95"/>
<circle fill="none" stroke="#901818" stroke-width="0.9" cx="563.1" cy="112.2" r="1.95"/>
<circle fill="none" stroke="#901818" stroke-width="0.9" cx="527.7" cy="117.5" r="1.95"/>
<circle fill="none" stroke="#901818" stroke-width="0.9" cx="532.3" cy="116.8" r="1.95"/>
<circle fill="none" stroke="#901818" stroke-width="0.9" cx="536.2" cy="119.1" r="1.95"/>
<circle fill="none" stroke="#901818" stroke-width="0.9" cx="540.0" cy="117.5" r="1.95"/>
<circle fill="none" stroke="#901818" stroke-width="0.9" cx="544.6" cy="116.8" r="1.95"/>
<circle fill="none" stroke="#901818" stroke-width="0.9" cx="549.2" cy="118.3" r="1.95"/>
<circle fill="none" stroke="#901818" stroke-width="0.9" cx="555.4" cy="116.0" r="1.95"/>
<circle fill="none" stroke="#901818" stroke-width="0.9" cx="526.2" cy="122.9" r="1.95"/>
<circle fill="none" stroke="#901818" stroke-width="0.9" cx="531.5" cy="121.4" r="1.95"/>
<circle fill="none" stroke="#901818" stroke-width="0.9" cx="535.4" cy="123.7" r="1.95"/>
<circle fill="none" stroke="#901818" stroke-width="0.9" cx="540.8" cy="121.4" r="1.95"/>
<circle fill="none" stroke="#901818" stroke-width="0.9" cx="544.6" cy="122.9" r="1.95"/>
<circle fill="none" stroke="#901818" stroke-width="0.9" cx="553.1" cy="122.2" r="1.95"/>
<circle fill="none" stroke="#901818" stroke-width="0.9" cx="523.1" cy="127.5" r="1.95"/>
<circle fill="none" stroke="#901818" stroke-width="0.9" cx="528.5" cy="126.0" r="1.95"/>
<circle fill="none" stroke="#901818" stroke-width="0.9" cx="533.8" cy="127.5" r="1.95"/>
<circle fill="none" stroke="#901818" stroke-width="0.9" cx="539.2" cy="126.0" r="1.95"/>
<circle fill="none" stroke="#901818" stroke-width="0.9" cx="542.3" cy="127.5" r="1.95"/>
<circle fill="none" stroke="#901818" stroke-width="0.9" cx="535.4" cy="129.8" r="1.95"/>
<circle fill="none" stroke="#901818" stroke-width="0.9" cx="529.2" cy="131.4" r="1.95"/>
<circle fill="none" stroke="#901818" stroke-width="0.9" cx="540.0" cy="130.6" r="1.95"/>
<circle fill="none" stroke="#901818" stroke-width="0.9" cx="521.5" cy="133.7" r="1.95"/>
<circle fill="none" stroke="#901818" stroke-width="0.9" cx="530.0" cy="134.5" r="1.95"/>
<circle fill="none" stroke="#901818" stroke-width="0.9" cx="550.5" cy="132.9" r="1.95"/>
<circle fill="none" stroke="#901818" stroke-width="0.9" cx="523.1" cy="137.5" r="1.95"/>
<circle fill="none" stroke="#901818" stroke-width="0.9" cx="531.5" cy="137.5" r="1.95"/>
<circle fill="none" stroke="#901818" stroke-width="0.9" cx="434.3" cy="151.5" r="1.95"/>
<circle fill="none" stroke="#901818" stroke-width="0.9" cx="457.2" cy="151.5" r="1.95"/>
<circle fill="none" stroke="#901818" stroke-width="0.9" cx="451.8" cy="157.5" r="1.95"/>
<circle fill="none" stroke="#901818" stroke-width="0.9" cx="451.5" cy="168.4" r="1.95"/>
<circle fill="none" stroke="#901818" stroke-width="0.9" cx="457.2" cy="167.2" r="1.95"/>
<circle fill="none" stroke="#901818" stroke-width="0.9" cx="434.3" cy="169.9" r="1.95"/>
<circle fill="none" stroke="#901818" stroke-width="0.9" cx="434.6" cy="173.3" r="1.95"/>
<circle fill="none" stroke="#901818" stroke-width="0.9" cx="444.3" cy="173.3" r="1.95"/>
<circle fill="none" stroke="#901818" stroke-width="0.9" cx="434.6" cy="180.2" r="1.95"/>
<circle fill="none" stroke="#901818" stroke-width="0.9" cx="457.2" cy="177.6" r="1.95"/>
<circle fill="none" stroke="#901818" stroke-width="0.9" cx="460.8" cy="173.3" r="1.95"/>
<circle fill="none" stroke="#901818" stroke-width="0.9" cx="465.4" cy="169.5" r="1.95"/>
<circle fill="none" stroke="#901818" stroke-width="0.9" cx="465.4" cy="173.3" r="1.95"/>
<circle fill="none" stroke="#901818" stroke-width="0.9" cx="471.5" cy="170.2" r="1.95"/>
<circle fill="none" stroke="#901818" stroke-width="0.9" cx="471.5" cy="173.3" r="1.95"/>
<circle fill="none" stroke="#901818" stroke-width="0.9" cx="473.8" cy="178.7" r="1.95"/>
<circle fill="none" stroke="#901818" stroke-width="0.9" cx="465.4" cy="159.8" r="1.95"/>
<circle fill="none" stroke="#901818" stroke-width="0.9" cx="469.2" cy="158.7" r="1.95"/>
<circle fill="none" stroke="#901818" stroke-width="0.9" cx="469.2" cy="161.8" r="1.95"/>
<circle fill="none" stroke="#901818" stroke-width="0.9" cx="471.5" cy="155.2" r="1.95"/>
<circle fill="none" stroke="#901818" stroke-width="0.9" cx="474.6" cy="156.4" r="1.95"/>
<circle fill="none" stroke="#901818" stroke-width="0.9" cx="473.8" cy="161.0" r="1.95"/>
<circle fill="none" stroke="#901818" stroke-width="0.9" cx="476.2" cy="151.8" r="1.95"/>
<circle fill="none" stroke="#901818" stroke-width="0.9" cx="478.5" cy="154.8" r="1.95"/>
<circle fill="none" stroke="#901818" stroke-width="0.9" cx="476.6" cy="157.9" r="1.95"/>
<circle fill="none" stroke="#901818" stroke-width="0.9" cx="478.8" cy="165.6" r="1.95"/>
<circle fill="none" stroke="#901818" stroke-width="0.9" cx="476.9" cy="166.4" r="1.95"/>
<circle fill="none" stroke="#901818" stroke-width="0.9" cx="473.8" cy="167.2" r="1.95"/>
<circle fill="none" stroke="#901818" stroke-width="0.9" cx="481.5" cy="167.9" r="1.95"/>
<circle fill="none" stroke="#901818" stroke-width="0.9" cx="483.1" cy="170.2" r="1.95"/>
<circle fill="none" stroke="#901818" stroke-width="0.9" cx="482.3" cy="147.9" r="1.95"/>
<circle fill="none" stroke="#901818" stroke-width="0.9" cx="482.3" cy="150.2" r="1.95"/>
<circle fill="none" stroke="#901818" stroke-width="0.9" cx="486.9" cy="147.9" r="1.95"/>
<circle fill="none" stroke="#901818" stroke-width="0.9" cx="491.5" cy="148.7" r="1.95"/>
<circle fill="none" stroke="#901818" stroke-width="0.9" cx="492.3" cy="151.8" r="1.95"/>
<circle fill="none" stroke="#901818" stroke-width="0.9" cx="487.7" cy="157.2" r="1.95"/>
<circle fill="none" stroke="#901818" stroke-width="0.9" cx="483.8" cy="160.7" r="1.95"/>
<circle fill="none" stroke="#901818" stroke-width="0.9" cx="487.7" cy="161.0" r="1.95"/>
<circle fill="none" stroke="#901818" stroke-width="0.9" cx="490.0" cy="173.0" r="1.95"/>
<circle fill="none" stroke="#901818" stroke-width="0.9" cx="492.3" cy="167.2" r="1.95"/>
<circle fill="none" stroke="#901818" stroke-width="0.9" cx="494.6" cy="166.8" r="1.95"/>
<circle fill="none" stroke="#901818" stroke-width="0.9" cx="496.2" cy="157.6" r="1.95"/>
<circle fill="none" stroke="#901818" stroke-width="0.9" cx="498.5" cy="160.2" r="1.95"/>
<circle fill="none" stroke="#901818" stroke-width="0.9" cx="498.5" cy="153.3" r="1.95"/>
<circle fill="none" stroke="#901818" stroke-width="0.9" cx="500.0" cy="151.8" r="1.95"/>
<circle fill="none" stroke="#901818" stroke-width="0.9" cx="496.9" cy="147.9" r="1.95"/>
<circle fill="none" stroke="#901818" stroke-width="0.9" cx="503.8" cy="147.9" r="1.95"/>
<circle fill="none" stroke="#901818" stroke-width="0.9" cx="507.7" cy="147.2" r="1.95"/>
<circle fill="none" stroke="#901818" stroke-width="0.9" cx="510.8" cy="147.9" r="1.95"/>
<circle fill="none" stroke="#901818" stroke-width="0.9" cx="513.8" cy="147.2" r="1.95"/>
<circle fill="none" stroke="#901818" stroke-width="0.9" cx="518.5" cy="146.8" r="1.95"/>
<circle fill="none" stroke="#901818" stroke-width="0.9" cx="523.4" cy="147.9" r="1.95"/>
<circle fill="none" stroke="#901818" stroke-width="0.9" cx="444.6" cy="182.5" r="1.95"/>
<circle fill="none" stroke="#901818" stroke-width="0.9" cx="444.6" cy="190.2" r="1.95"/>
<circle fill="none" stroke="#901818" stroke-width="0.9" cx="457.2" cy="184.8" r="1.95"/>
<circle fill="none" stroke="#901818" stroke-width="0.9" cx="461.5" cy="184.8" r="1.95"/>
<circle fill="none" stroke="#901818" stroke-width="0.9" cx="476.6" cy="184.8" r="1.95"/>
<circle fill="none" stroke="#901818" stroke-width="0.9" cx="478.8" cy="184.8" r="1.95"/>
<line x1="417.50" y1="180.75" x2="727.78" y2="-48.90" stroke="#000" stroke-width="1.2" stroke-dasharray="1.0,1.48"/>
<line x1="417.50" y1="205.89" x2="727.78" y2="-23.76" stroke="#1c981c" stroke-width="1.15" stroke-dasharray="6,1.5,0.94,1.5"/>
<line x1="417.50" y1="222.50" x2="727.78" y2="-7.15" stroke="#111" stroke-width="1.08" stroke-dasharray="3.46,1.5"/>
</g>
<g stroke="#808080" stroke-width="1"><line x1="417.5" y1="0.7" x2="417.5" y2="223.0"/><line x1="716.5" y1="0.7" x2="716.5" y2="223.0"/><line x1="417.0" y1="1.2" x2="717.0" y2="1.2"/><line x1="417.0" y1="222.5" x2="717.0" y2="222.5"/></g>
<g stroke="#222" stroke-width="0.95"><line x1="417.50" y1="222.2" x2="417.50" y2="225.4"/><line x1="417.8" y1="222.50" x2="414.6" y2="222.50"/><line x1="473.90" y1="222.2" x2="473.90" y2="225.4"/><line x1="417.8" y1="180.75" x2="414.6" y2="180.75"/><line x1="530.31" y1="222.2" x2="530.31" y2="225.4"/><line x1="417.8" y1="139.01" x2="414.6" y2="139.01"/><line x1="586.71" y1="222.2" x2="586.71" y2="225.4"/><line x1="417.8" y1="97.26" x2="414.6" y2="97.26"/><line x1="643.12" y1="222.2" x2="643.12" y2="225.4"/><line x1="417.8" y1="55.51" x2="414.6" y2="55.51"/><line x1="699.52" y1="222.2" x2="699.52" y2="225.4"/><line x1="417.8" y1="13.77" x2="414.6" y2="13.77"/></g>
<g stroke="#444" stroke-width="0.8"><line x1="434.48" y1="222.2" x2="434.48" y2="224.1"/><line x1="417.8" y1="209.93" x2="415.9" y2="209.93"/><line x1="444.41" y1="222.2" x2="444.41" y2="224.1"/><line x1="417.8" y1="202.58" x2="415.9" y2="202.58"/><line x1="451.46" y1="222.2" x2="451.46" y2="224.1"/><line x1="417.8" y1="197.37" x2="415.9" y2="197.37"/><line x1="456.93" y1="222.2" x2="456.93" y2="224.1"/><line x1="417.8" y1="193.32" x2="415.9" y2="193.32"/><line x1="461.39" y1="222.2" x2="461.39" y2="224.1"/><line x1="417.8" y1="190.01" x2="415.9" y2="190.01"/><line x1="465.17" y1="222.2" x2="465.17" y2="224.1"/><line x1="417.8" y1="187.22" x2="415.9" y2="187.22"/><line x1="468.44" y1="222.2" x2="468.44" y2="224.1"/><line x1="417.8" y1="184.80" x2="415.9" y2="184.80"/><line x1="471.32" y1="222.2" x2="471.32" y2="224.1"/><line x1="417.8" y1="182.66" x2="415.9" y2="182.66"/><line x1="490.88" y1="222.2" x2="490.88" y2="224.1"/><line x1="417.8" y1="168.19" x2="415.9" y2="168.19"/><line x1="500.82" y1="222.2" x2="500.82" y2="224.1"/><line x1="417.8" y1="160.83" x2="415.9" y2="160.83"/><line x1="507.86" y1="222.2" x2="507.86" y2="224.1"/><line x1="417.8" y1="155.62" x2="415.9" y2="155.62"/><line x1="513.33" y1="222.2" x2="513.33" y2="224.1"/><line x1="417.8" y1="151.57" x2="415.9" y2="151.57"/><line x1="517.80" y1="222.2" x2="517.80" y2="224.1"/><line x1="417.8" y1="148.27" x2="415.9" y2="148.27"/><line x1="521.57" y1="222.2" x2="521.57" y2="224.1"/><line x1="417.8" y1="145.47" x2="415.9" y2="145.47"/><line x1="524.84" y1="222.2" x2="524.84" y2="224.1"/><line x1="417.8" y1="143.05" x2="415.9" y2="143.05"/><line x1="527.73" y1="222.2" x2="527.73" y2="224.1"/><line x1="417.8" y1="140.92" x2="415.9" y2="140.92"/><line x1="547.29" y1="222.2" x2="547.29" y2="224.1"/><line x1="417.8" y1="126.44" x2="415.9" y2="126.44"/><line x1="557.22" y1="222.2" x2="557.22" y2="224.1"/><line x1="417.8" y1="119.09" x2="415.9" y2="119.09"/><line x1="564.27" y1="222.2" x2="564.27" y2="224.1"/><line x1="417.8" y1="113.87" x2="415.9" y2="113.87"/><line x1="569.73" y1="222.2" x2="569.73" y2="224.1"/><line x1="417.8" y1="109.83" x2="415.9" y2="109.83"/><line x1="574.20" y1="222.2" x2="574.20" y2="224.1"/><line x1="417.8" y1="106.52" x2="415.9" y2="106.52"/><line x1="577.98" y1="222.2" x2="577.98" y2="224.1"/><line x1="417.8" y1="103.73" x2="415.9" y2="103.73"/><line x1="581.25" y1="222.2" x2="581.25" y2="224.1"/><line x1="417.8" y1="101.31" x2="415.9" y2="101.31"/><line x1="584.13" y1="222.2" x2="584.13" y2="224.1"/><line x1="417.8" y1="99.17" x2="415.9" y2="99.17"/><line x1="603.69" y1="222.2" x2="603.69" y2="224.1"/><line x1="417.8" y1="84.69" x2="415.9" y2="84.69"/><line x1="613.63" y1="222.2" x2="613.63" y2="224.1"/><line x1="417.8" y1="77.34" x2="415.9" y2="77.34"/><line x1="620.67" y1="222.2" x2="620.67" y2="224.1"/><line x1="417.8" y1="72.13" x2="415.9" y2="72.13"/><line x1="626.14" y1="222.2" x2="626.14" y2="224.1"/><line x1="417.8" y1="68.08" x2="415.9" y2="68.08"/><line x1="630.60" y1="222.2" x2="630.60" y2="224.1"/><line x1="417.8" y1="64.77" x2="415.9" y2="64.77"/><line x1="634.38" y1="222.2" x2="634.38" y2="224.1"/><line x1="417.8" y1="61.98" x2="415.9" y2="61.98"/><line x1="637.65" y1="222.2" x2="637.65" y2="224.1"/><line x1="417.8" y1="59.56" x2="415.9" y2="59.56"/><line x1="640.54" y1="222.2" x2="640.54" y2="224.1"/><line x1="417.8" y1="57.42" x2="415.9" y2="57.42"/><line x1="660.10" y1="222.2" x2="660.10" y2="224.1"/><line x1="417.8" y1="42.95" x2="415.9" y2="42.95"/><line x1="670.03" y1="222.2" x2="670.03" y2="224.1"/><line x1="417.8" y1="35.59" x2="415.9" y2="35.59"/><line x1="677.08" y1="222.2" x2="677.08" y2="224.1"/><line x1="417.8" y1="30.38" x2="415.9" y2="30.38"/><line x1="682.54" y1="222.2" x2="682.54" y2="224.1"/><line x1="417.8" y1="26.33" x2="415.9" y2="26.33"/><line x1="687.01" y1="222.2" x2="687.01" y2="224.1"/><line x1="417.8" y1="23.03" x2="415.9" y2="23.03"/><line x1="690.79" y1="222.2" x2="690.79" y2="224.1"/><line x1="417.8" y1="20.23" x2="415.9" y2="20.23"/><line x1="694.06" y1="222.2" x2="694.06" y2="224.1"/><line x1="417.8" y1="17.81" x2="415.9" y2="17.81"/><line x1="696.94" y1="222.2" x2="696.94" y2="224.1"/><line x1="417.8" y1="15.68" x2="415.9" y2="15.68"/><line x1="716.50" y1="222.2" x2="716.50" y2="224.1"/><line x1="417.8" y1="1.20" x2="415.9" y2="1.20"/></g>
<text x="417.50" y="236.90" text-anchor="middle" font-size="13.2">10<tspan font-size="9.2" dx="0.3" dy="-5.1">−2</tspan></text>
<text x="413.20" y="227.20" text-anchor="end" font-size="13.2">10<tspan font-size="9.2" dx="0.3" dy="-5.1">−2</tspan></text>
<text x="473.90" y="236.90" text-anchor="middle" font-size="13.2">10<tspan font-size="9.2" dx="0.3" dy="-5.1">−1</tspan></text>
<text x="413.20" y="185.45" text-anchor="end" font-size="13.2">10<tspan font-size="9.2" dx="0.3" dy="-5.1">−1</tspan></text>
<text x="530.31" y="236.90" text-anchor="middle" font-size="13.2">10<tspan font-size="9.2" dx="0.3" dy="-5.1">0</tspan></text>
<text x="413.20" y="143.71" text-anchor="end" font-size="13.2">10<tspan font-size="9.2" dx="0.3" dy="-5.1">0</tspan></text>
<text x="586.71" y="236.90" text-anchor="middle" font-size="13.2">10<tspan font-size="9.2" dx="0.3" dy="-5.1">1</tspan></text>
<text x="413.20" y="101.96" text-anchor="end" font-size="13.2">10<tspan font-size="9.2" dx="0.3" dy="-5.1">1</tspan></text>
<text x="643.12" y="236.90" text-anchor="middle" font-size="13.2">10<tspan font-size="9.2" dx="0.3" dy="-5.1">2</tspan></text>
<text x="413.20" y="60.21" text-anchor="end" font-size="13.2">10<tspan font-size="9.2" dx="0.3" dy="-5.1">2</tspan></text>
<text x="699.52" y="236.90" text-anchor="middle" font-size="13.2">10<tspan font-size="9.2" dx="0.3" dy="-5.1">3</tspan></text>
<text x="413.20" y="18.47" text-anchor="end" font-size="13.2">10<tspan font-size="9.2" dx="0.3" dy="-5.1">3</tspan></text>
<rect x="200.6" y="156.1" width="142.7" height="62.8" rx="2.2" fill="#fff" fill-opacity="0.85" stroke="#d8d8d8" stroke-width="1"/>
<line x1="204.7" y1="167.05" x2="230.8" y2="167.05" stroke="#111" stroke-width="1.08" stroke-dasharray="3.46,1.5"/>
<line x1="204.7" y1="186.4" x2="230.8" y2="186.4" stroke="#000" stroke-width="1.2" stroke-dasharray="1.0,1.48"/>
<line x1="204.7" y1="206.9" x2="230.8" y2="206.9" stroke="#1c981c" stroke-width="1.15" stroke-dasharray="6,1.5,0.94,1.5"/>
<text x="240.83" y="171.40" font-size="13" >L</text>
<text x="248.43" y="173.00" font-size="9.4" textLength="11.65" lengthAdjust="spacingAndGlyphs" >tot</text>
<text x="265.33" y="171.40" font-size="13" textLength="9.37" lengthAdjust="spacingAndGlyphs" >=</text>
<text x="279.03" y="171.40" font-size="13" >L</text>
<text x="286.68" y="173.00" font-size="9.4" textLength="12.97" lengthAdjust="spacingAndGlyphs" >bol</text>
<text x="240.73" y="191.50" font-size="13" >L</text>
<text x="248.43" y="193.10" font-size="9.4" textLength="11.65" lengthAdjust="spacingAndGlyphs" >tot</text>
<text x="265.33" y="191.50" font-size="13" textLength="9.37" lengthAdjust="spacingAndGlyphs" >=</text>
<text x="279.00" y="191.50" font-size="13" textLength="16.16" lengthAdjust="spacingAndGlyphs" >10</text>
<text x="300.16" y="191.50" font-size="13" textLength="9.47" lengthAdjust="spacingAndGlyphs" >×</text>
<text x="313.83" y="191.50" font-size="13" >L</text>
<text x="321.47" y="193.10" font-size="9.4" textLength="13.08" lengthAdjust="spacingAndGlyphs" >bol</text>
<text x="240.73" y="211.40" font-size="13" >L</text>
<text x="248.43" y="213.00" font-size="9.4" textLength="11.65" lengthAdjust="spacingAndGlyphs" >tot</text>
<text x="265.33" y="211.40" font-size="13" textLength="9.37" lengthAdjust="spacingAndGlyphs" >=</text>
<text x="279.40" y="211.40" font-size="13" textLength="19.53" lengthAdjust="spacingAndGlyphs" >2.4</text>
<text x="304.08" y="211.40" font-size="13" textLength="9.34" lengthAdjust="spacingAndGlyphs" >×</text>
<text x="317.73" y="211.40" font-size="13" >L</text>
<text x="325.38" y="213.00" font-size="9.4" textLength="12.97" lengthAdjust="spacingAndGlyphs" >bol</text>
<rect x="561.4" y="149.8" width="148.1" height="65.2" rx="2.2" fill="#fff" fill-opacity="0.85" stroke="#d8d8d8" stroke-width="1"/>
<line x1="566.6" y1="161.2" x2="595.0" y2="161.2" stroke="#111" stroke-width="1.08" stroke-dasharray="3.46,1.5"/>
<line x1="566.6" y1="181.6" x2="595.0" y2="181.6" stroke="#000" stroke-width="1.2" stroke-dasharray="1.0,1.48"/>
<line x1="566.6" y1="201.9" x2="595.0" y2="201.9" stroke="#1c981c" stroke-width="1.15" stroke-dasharray="6,1.5,0.94,1.5"/>
<text x="605.48" y="165.40" font-size="13.6" >L</text>
<text x="614.12" y="167.80" font-size="9.6" textLength="12.77" lengthAdjust="spacingAndGlyphs" >tot</text>
<text x="631.79" y="165.40" font-size="13.6" textLength="7.45" lengthAdjust="spacingAndGlyphs" >=</text>
<text x="643.28" y="165.40" font-size="13.6" >L</text>
<text x="651.49" y="167.80" font-size="9.6" textLength="14.85" lengthAdjust="spacingAndGlyphs" >bol</text>
<text x="605.58" y="186.20" font-size="13.6" >L</text>
<text x="614.12" y="188.60" font-size="9.6" textLength="12.77" lengthAdjust="spacingAndGlyphs" >tot</text>
<text x="631.79" y="186.20" font-size="13.6" textLength="7.45" lengthAdjust="spacingAndGlyphs" >=</text>
<text x="644.22" y="186.20" font-size="13.6" textLength="14.38" lengthAdjust="spacingAndGlyphs" >10</text>
<text x="663.90" y="186.20" font-size="13.6" textLength="9.21" lengthAdjust="spacingAndGlyphs" >×</text>
<text x="677.98" y="186.20" font-size="13.6" >L</text>
<text x="686.29" y="188.60" font-size="9.6" textLength="14.85" lengthAdjust="spacingAndGlyphs" >bol</text>
<text x="605.58" y="206.60" font-size="13.6" >L</text>
<text x="614.12" y="209.00" font-size="9.6" textLength="12.77" lengthAdjust="spacingAndGlyphs" >tot</text>
<text x="631.79" y="206.60" font-size="13.6" textLength="7.45" lengthAdjust="spacingAndGlyphs" >=</text>
<text x="643.52" y="206.60" font-size="13.6" textLength="18.96" lengthAdjust="spacingAndGlyphs" >2.5</text>
<text x="668.01" y="206.60" font-size="13.6" textLength="9.08" lengthAdjust="spacingAndGlyphs" >×</text>
<text x="681.78" y="206.60" font-size="13.6" >L</text>
<text x="690.31" y="209.00" font-size="9.6" textLength="14.41" lengthAdjust="spacingAndGlyphs" >bol</text>
<text x="124.80" y="26.2" font-family='"Liberation Mono", monospace' font-size="14.5" textLength="48.06" lengthAdjust="spacingAndGlyphs" fill="#0000ff">Aquila</text>
<text x="491.10" y="26.5" font-family='"Liberation Mono", monospace' font-size="15.2" textLength="41.94" lengthAdjust="spacingAndGlyphs" fill="#0000ff">Orion</text>
<text x="6" y="23.8" font-size="12" fill="#d62728" textLength="10" lengthAdjust="spacingAndGlyphs">a)</text>
<text x="372.6" y="22.9" font-size="11.6" fill="#e02a2a" textLength="9.6" lengthAdjust="spacingAndGlyphs">b)</text>
<text x="176.03" y="256.80" font-size="13" >L</text>
<text x="182.57" y="258.80" font-size="9.4" textLength="13.19" lengthAdjust="spacingAndGlyphs" >bol</text>
<text x="200.61" y="256.80" font-size="13" textLength="3.15" lengthAdjust="spacingAndGlyphs" >(</text>
<text x="204.13" y="256.80" font-size="13" >L</text>
<circle cx="216.10" cy="256.00" r="2.40" fill="none" stroke="#000" stroke-width="0.85"/><circle cx="216.10" cy="256.00" r="0.5" fill="#000"/>
<text x="221.04" y="256.80" font-size="13" textLength="3.15" lengthAdjust="spacingAndGlyphs" >)</text>
<text x="541.10" y="253.30" font-size="13.4" >L</text>
<text x="549.32" y="255.40" font-size="9.6" textLength="14.19" lengthAdjust="spacingAndGlyphs" >bol</text>
<text x="568.26" y="253.30" font-size="13.4" textLength="2.90" lengthAdjust="spacingAndGlyphs" >(</text>
<text x="572.40" y="253.30" font-size="13.4" >L</text>
<circle cx="584.40" cy="252.90" r="2.35" fill="none" stroke="#000" stroke-width="0.85"/><circle cx="584.40" cy="252.90" r="0.5" fill="#000"/>
<text x="590.04" y="253.30" font-size="13.4" textLength="3.28" lengthAdjust="spacingAndGlyphs" >)</text>
<g transform="rotate(-90)">
<text x="-137.57" y="10.30" font-size="13" >L</text>
<text x="-130.06" y="12.30" font-size="9.4" textLength="11.34" lengthAdjust="spacingAndGlyphs" >tot</text>
<text x="-111.99" y="10.30" font-size="13" textLength="2.65" lengthAdjust="spacingAndGlyphs" >(</text>
<text x="-108.67" y="10.30" font-size="13" >L</text>
<text x="-92.25" y="10.30" font-size="13" textLength="2.65" lengthAdjust="spacingAndGlyphs" >)</text>
</g>
<circle cx="10.00" cy="97.30" r="2.45" fill="none" stroke="#000" stroke-width="0.85"/><circle cx="10.00" cy="97.30" r="0.5" fill="#000"/>
<g transform="rotate(-90)">
<text x="-137.00" y="379.50" font-size="13.4" >L</text>
<text x="-128.68" y="381.30" font-size="9.6" textLength="12.37" lengthAdjust="spacingAndGlyphs" >tot</text>
<text x="-109.87" y="379.50" font-size="13.4" textLength="2.52" lengthAdjust="spacingAndGlyphs" >(</text>
<text x="-106.70" y="379.50" font-size="13.4" >L</text>
<text x="-89.25" y="379.50" font-size="13.4" textLength="2.65" lengthAdjust="spacingAndGlyphs" >)</text>
</g>
<circle cx="379.20" cy="95.30" r="2.35" fill="none" stroke="#000" stroke-width="0.85"/><circle cx="379.20" cy="95.30" r="0.5" fill="#000"/></svg>
</body></html>
